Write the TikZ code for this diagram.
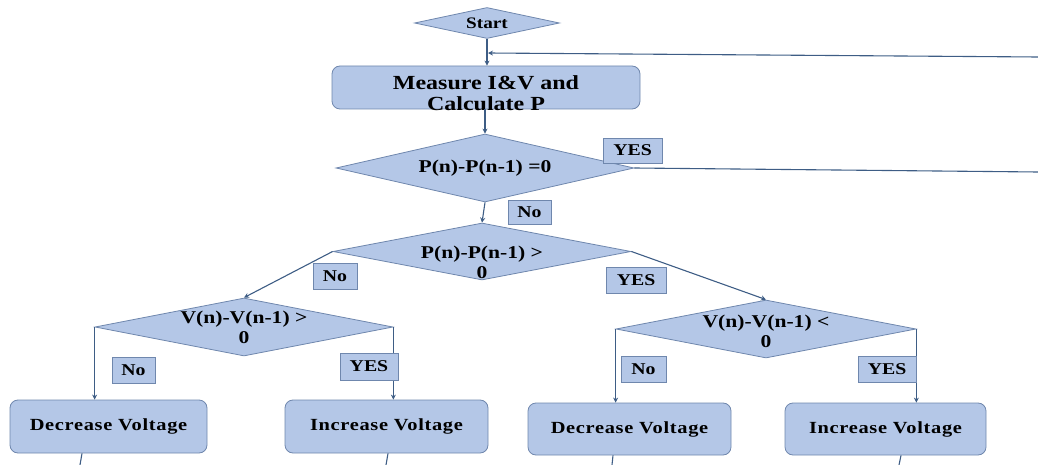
\documentclass[tikz,border=0pt]{standalone}
\usepackage{fontspec}
\setmainfont{Liberation Serif}[FakeStretch=1.2]
\usetikzlibrary{shapes.geometric,arrows.meta}
\definecolor{boxfill}{HTML}{B4C7E7}
\definecolor{boxline}{HTML}{6F87AD}
\definecolor{conn}{HTML}{3E5D85}
\tikzset{
  dia/.style={diamond,draw=boxline,fill=boxfill,line width=0.8pt,inner sep=0pt},
  rbox/.style={rectangle,rounded corners=8pt,draw=boxline,fill=boxfill,line width=0.8pt,inner sep=0pt,font=\bfseries\fontsize{17}{19}\selectfont\addfontfeatures{LetterSpace=4}},
  lbl/.style={rectangle,draw=boxline,fill=boxfill,line width=0.6pt,inner sep=0pt,font=\bfseries\fontsize{16.5}{18}\selectfont},
  dtext/.style={align=center,font=\bfseries\fontsize{18}{20}\selectfont,inner sep=0pt},
  conn/.style={draw=conn,line width=1.1pt},
  arr/.style={conn,-{Stealth[length=5pt,width=5pt]}}
}
\begin{document}
\begin{tikzpicture}[x=1pt,y=-1pt]
\useasboundingbox (0,0) rectangle (1038,465);
% shapes
\node[dia,minimum width=145pt,minimum height=31pt] (start) at (487,23) {};
\node[dtext,font=\bfseries\fontsize{16}{18}\selectfont] (startt) at (487,23) {Start};
\node[rbox,minimum width=308pt,minimum height=43pt] (meas) at (486,87.5) {};
\node[dtext,font=\bfseries\fontsize{20}{21}\selectfont] (meast) at (486,93) {Measure I\&V and\\Calculate P};
\node[dia,minimum width=298pt,minimum height=68pt] (d1) at (485,168) {};
\node[dtext] (d1t) at (485,168) {P(n)-P(n-1) =0};
\node[dia,minimum width=298pt,minimum height=57pt] (d2) at (482,251.5) {};
\node[dtext] (d2t) at (482,262) {P(n)-P(n-1) >\\0};
\node[dia,minimum width=298pt,minimum height=58pt] (d3) at (244,327) {};
\node[dtext] (d3t) at (244,327) {V(n)-V(n-1) >\\0};
\node[dia,minimum width=300pt,minimum height=58pt] (d4) at (766,329) {};
\node[dtext] (d4t) at (766,331) {V(n)-V(n-1) <\\0};
\node[rbox,minimum width=197pt,minimum height=53pt] (dec1) at (108.5,426.5) {Decrease Voltage};
\node[rbox,minimum width=203pt,minimum height=53pt] (inc1) at (386.5,426.5) {Increase Voltage};
\node[rbox,minimum width=203pt,minimum height=52pt] (dec2) at (629.5,429) {Decrease Voltage};
\node[rbox,minimum width=201pt,minimum height=52pt] (inc2) at (885.5,429) {Increase Voltage};
% coordinates
\coordinate (fbr) at (1038,57);
\coordinate (fbj) at (488,53);
\coordinate (yr) at (1038,172);
\coordinate (s1) at (80,465);
\coordinate (s2) at (386,465);
\coordinate (s3) at (612,465);
\coordinate (s4) at (899,465);
% connectors
\draw[arr] (start.south) -- (start.south |- meas.north);
\draw[arr] (fbr) -- (fbj);
\draw[arr] (meas.south -| d1.north) -- (d1.north);
\draw[conn] (d1.east) -- (yr);
\draw[arr] (d1.south) -- (d2.north);
\draw[arr] (d2.west) -- (d3.north);
\draw[arr] (d2.east) -- (d4.north);
\draw[arr] (d3.west) -- (d3.west |- dec1.north);
\draw[arr] (d3.east) -- (d3.east |- inc1.north);
\draw[arr] (d4.west) -- (d4.west |- dec2.north);
\draw[arr] (d4.east) -- (d4.east |- inc2.north);
\draw[conn] (dec1.south -| 82,0) -- (s1);
\draw[conn] (inc1.south -| 388,0) -- (s2);
\draw[conn] (dec2.south -| 613,0) -- (s3);
\draw[conn] (inc2.south -| 901,0) -- (s4);
% labels
\node[lbl,minimum width=59pt,minimum height=25pt] (yes1) at (632.5,150.5) {YES};
\node[lbl,minimum width=43pt,minimum height=24pt] (no1) at (529.5,212) {No};
\node[lbl,minimum width=44pt,minimum height=26pt] (no2) at (335,276) {No};
\node[lbl,minimum width=60pt,minimum height=26pt] (yes2) at (636,280) {YES};
\node[lbl,minimum width=43pt,minimum height=26pt] (no3) at (133.5,370) {No};
\node[lbl,minimum width=58pt,minimum height=27pt] (yes3) at (369,366.5) {YES};
\node[lbl,minimum width=45pt,minimum height=26pt] (no4) at (643.5,369) {No};
\node[lbl,minimum width=58pt,minimum height=26pt] (yes4) at (887,369) {YES};
\end{tikzpicture}
\end{document}
